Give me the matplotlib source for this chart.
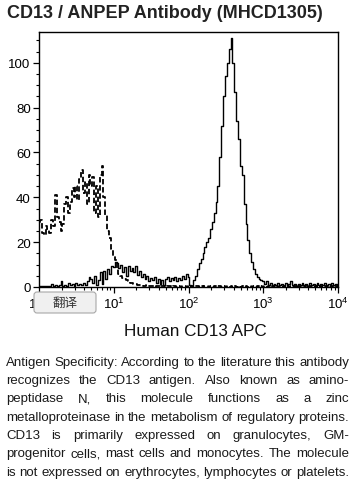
import numpy as np
import matplotlib
matplotlib.use("Agg")
import matplotlib.pyplot as plt
from matplotlib.ticker import LogLocator, NullFormatter, FixedLocator, MultipleLocator
from matplotlib.patches import FancyBboxPatch

plt.rcParams['font.family'] = ['Liberation Sans', 'Noto Sans CJK SC', 'DejaVu Sans']
plt.rcParams['mathtext.fontset'] = 'custom'
plt.rcParams['mathtext.rm'] = 'Liberation Sans'
plt.rcParams['mathtext.it'] = 'Liberation Sans:italic'
plt.rcParams['mathtext.bf'] = 'Liberation Sans:bold'

# channel grid: 40 channels per decade, 10^0 .. 10^4
chan = 10 ** (np.arange(161) * 0.025)

# isotype control (dashed), counts
iso = [29, 30, 24, 23, 27, 26, 24, 30, 27, 41,
       31, 29, 25, 28, 37, 40, 33, 38, 44, 40,
       45, 39, 48, 52, 42, 47, 37, 50, 45, 49,
       33, 45, 31, 50, 54, 40, 32, 25, 22, 17,
       14, 12, 8, 6, 5, 4, 3.5, 3, 2.5, 2,
       2, 1.5, 1.5, 1, 1, 0.8, 0.5, 0.5, 0.8, 0.3,
       0.3, 0.5, 0.2, 0.4, 0.3, 0.2, 0.5, 0.3, 0.2, 0.4,
       0.3, 0.2, 0.3, 0.4, 0.2, 0.3, 0.2, 0.4, 0.3, 0.2,
       0.3, 0.2, 0.3, 0.2, 0.4, 0.3, 0.2, 0.3, 0.2, 0.3,
       0.4, 0.2, 0.3, 0.2, 0.3, 0.2, 0.3, 0.4, 0.2, 0.3,
       0.2, 0.3, 0.2, 0.3, 0.2, 0.3, 0.2, 0.4, 0.2, 0.3,
       0.2, 0.3, 0.2, 0.3, 0.2, 0.3, 0.2, 0.3, 0.2, 0.3,
       0.2, 0.3, 0.2, 0.3, 0.2, 0.3, 0.2, 0.3, 0.2, 0.3,
       0.2, 0.3, 0.2, 0.3, 0.2, 0.3, 0.2, 0.3, 0.2, 0.3,
       0.2, 0.3, 0.2, 0.3, 0.2, 0.3, 0.2, 0.3, 0.2, 0.3,
       0.2, 0.3, 0.2, 0.3, 0.2, 0.3, 0.2, 0.3, 0.2, 0.3,
       0.2]

# CD13 stained cells (solid)
cd13 = [0.5, 0.3, 0.5, 0.3, 0.5, 0.3, 0.5, 1.5, 0.5, 0.8,
        0.3, 1.0, 2.5, 0.5, 1.0, 0.5, 2.0, 1.0, 1.5, 0.5,
        2.0, 1.0, 1.5, 0.8, 2.0, 1.0, 2.5, 4.5, 3.5, 2.0,
        5.0, 1.0, 3.0, 6.5, 1.5, 7.0, 3.5, 8.0, 6.0, 9.5,
        9.0, 11.0, 10.5, 8.5, 10.0, 6.5, 9.0, 5.0, 9.5, 7.0,
        8.5, 6.5, 9.5, 5.5, 7.0, 4.5, 6.0, 3.5, 5.0, 2.5,
        4.0, 3.0, 4.5, 2.0, 3.5, 1.5, 3.0, 1.0, 3.5, 4.5,
        2.5, 4.0, 3.0, 4.5, 2.5, 4.0, 3.0, 5.0, 3.5, 6.0,
        4.5, 1.0, 0.3, 3.0, 5.0, 8.0, 10.5, 12.5, 15.0, 18.0,
        20.0, 22.0, 26.0, 29.0, 33.0, 38.0, 45.0, 58.0, 72.0, 85.0,
        94.0, 100.0, 106.0, 111.0, 100.0, 87.0, 74.0, 66.0, 54.0, 50.0,
        37.0, 28.0, 21.0, 15.0, 11.0, 8.0, 6.0, 4.5, 3.5, 3.0,
        2.5, 1.5, 2.8, 1.0, 2.0, 1.0, 1.5, 0.8, 2.0, 1.0,
        1.5, 0.5, 2.0, 1.0, 1.5, 2.5, 1.0, 1.5, 0.5, 1.5,
        1.0, 2.0, 1.0, 1.5, 0.5, 2.0, 1.0, 1.5, 1.0, 2.0,
        0.8, 1.5, 1.0, 2.0, 1.0, 1.5, 1.0, 2.0, 1.0, 1.5,
        1.0]

y_ticks = [0, 20, 40, 60, 80, 100]
x_ticks = [1, 10, 100, 1000, 10000]
x_labels = [r'$10^{0}$', r'$10^{1}$', r'$10^{2}$', r'$10^{3}$', r'$10^{4}$']

title = "CD13 / ANPEP Antibody (MHCD1305)"
xlabel = "Human CD13 APC"
button = "翻译"
body = [
    "Antigen Specificity: According to the literature this antibody",
    "recognizes the CD13 antigen. Also known as amino-",
    "peptidase N, this molecule functions as a zinc",
    "metalloproteinase in the metabolism of regulatory proteins.",
    "CD13 is primarily expressed on granulocytes, GM-",
    "progenitor cells, mast cells and monocytes. The molecule",
    "is not expressed on erythrocytes, lymphocytes or platelets.",
]

W, H = 355, 481
fig = plt.figure(figsize=(W / 100, H / 100), dpi=100)
fig.patch.set_facecolor('white')

# histogram panel (pixel box 39..338 x 33..288)
ax = fig.add_axes([39 / W, 1 - 288 / H, 299 / W, 255 / H])
ax.plot(chan, cd13, color='black', lw=1.0, drawstyle='steps-mid')
ax.plot(chan, iso, color='black', lw=1.3, ls=(0, (3, 1.5)), drawstyle='steps-mid')
ax.set_xscale('log')
ax.set_xlim(1, 1e4)
ax.set_ylim(0, 113.7)
ax.xaxis.set_major_locator(FixedLocator(x_ticks))
ax.set_xticklabels(x_labels)
ax.xaxis.set_minor_locator(LogLocator(base=10, subs=range(2, 10)))
ax.xaxis.set_minor_formatter(NullFormatter())
ax.set_yticks(y_ticks)
ax.yaxis.set_minor_locator(MultipleLocator(5))
ax.tick_params(which='major', direction='out', length=4.5, width=0.9,
               labelsize=9.5, pad=1.5, colors='black')
ax.tick_params(which='minor', direction='out', length=2.5, width=0.8)
for s in ax.spines.values():
    s.set_linewidth(1.0)

# overlay in pixel coordinates for texts and the button
ov = fig.add_axes([0, 0, 1, 1])
ov.set_xlim(0, W)
ov.set_ylim(H, 0)
ov.axis('off')

ov.text(7, 18.3, title, fontsize=13, fontweight='bold', color='#222222',
        ha='left', va='baseline')
ov.text(195.5, 336, xlabel, fontsize=12.3, color='#111111', ha='center', va='baseline')

btn = FancyBboxPatch((34, 293), 62, 21, boxstyle="round,pad=0,rounding_size=3",
                     facecolor='#f0f0f0', edgecolor='#a8a8a8', lw=0.8, zorder=5)
ov.add_patch(btn)
ov.text(65, 304, button, fontsize=9, color='#333333', ha='center', va='center',
        family=['Noto Sans CJK SC', 'DejaVu Sans'], zorder=6)

# justified paragraph
renderer = fig.canvas.get_renderer()
left, right = 6, 349
for k, line in enumerate(body):
    y = 365.7 + k * 18.33
    words = line.split()
    texts = [ov.text(0, y, w, fontsize=9.55, color='#1a1a1a', ha='left', va='baseline')
             for w in words]
    widths = [t.get_window_extent(renderer).width for t in texts]
    gap = (right - left - sum(widths)) / (len(words) - 1)
    x = left
    for t, w in zip(texts, widths):
        t.set_x(x)
        x += w + gap

fig.savefig("out.png", dpi=100, facecolor='white')
